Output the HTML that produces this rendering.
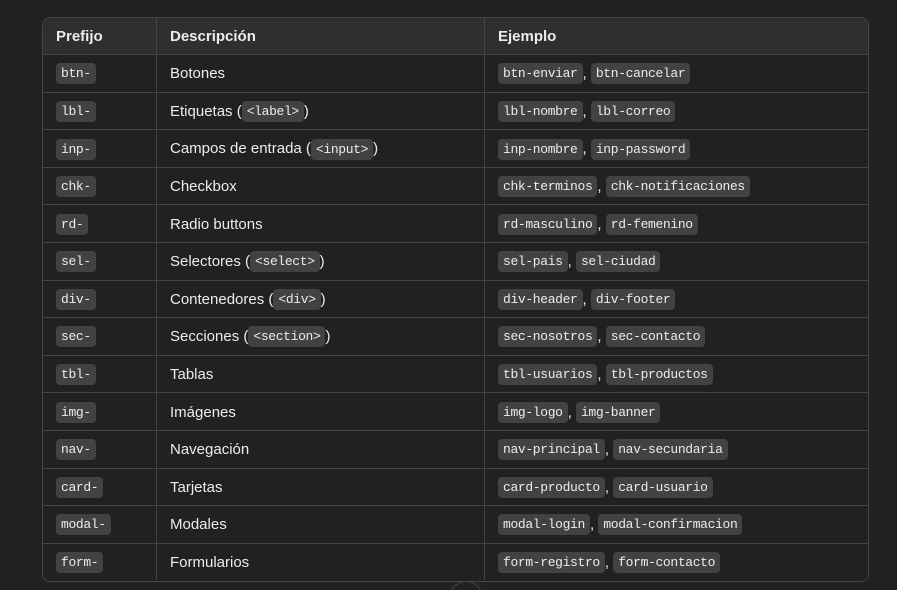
<!DOCTYPE html>
<html><head><style>
html,body{margin:0;padding:0;background:#212121;width:897px;height:590px;overflow:hidden;font-family:"Liberation Sans",sans-serif;color:#ececec}
.wrap{position:relative;width:897px;height:590px;overflow:hidden}
.t{position:absolute;left:42px;top:17px;width:825px;height:563px;border:1px solid #454545;border-radius:8px;overflow:hidden}
table{border-collapse:collapse;width:100%;font-size:15px}
th{background:#2f2f2f;text-align:left;font-weight:bold;height:36px;padding:0 0 0 13px;border-bottom:1px solid #454545;vertical-align:middle}
td{height:34.6px;padding:2px 0 0 13px;border-top:1px solid #454545;vertical-align:middle;line-height:20px}
th+th,td+td{border-left:1px solid #454545}
code{font-family:"Liberation Mono","DejaVu Sans Mono",monospace;font-size:13px;letter-spacing:-0.35px;background:#424242;border-radius:4px;padding:3px 5px;color:#ececec;vertical-align:middle}
.c{position:absolute;left:449px;top:581px;width:32px;height:32px;border:1px solid #454545;border-radius:50%}
</style></head><body><div class="wrap">
<div class="t"><table>
<tr><th style="width:100px">Prefijo</th><th style="width:314px">Descripción</th><th>Ejemplo</th></tr>
<tr><td><code>btn-</code></td><td>Botones</td><td><code>btn-enviar</code>, <code>btn-cancelar</code></td></tr>
<tr><td><code>lbl-</code></td><td>Etiquetas (<code>&lt;label&gt;</code>)</td><td><code>lbl-nombre</code>, <code>lbl-correo</code></td></tr>
<tr><td><code>inp-</code></td><td>Campos de entrada (<code>&lt;input&gt;</code>)</td><td><code>inp-nombre</code>, <code>inp-password</code></td></tr>
<tr><td><code>chk-</code></td><td>Checkbox</td><td><code>chk-terminos</code>, <code>chk-notificaciones</code></td></tr>
<tr><td><code>rd-</code></td><td>Radio buttons</td><td><code>rd-masculino</code>, <code>rd-femenino</code></td></tr>
<tr><td><code>sel-</code></td><td>Selectores (<code>&lt;select&gt;</code>)</td><td><code>sel-pais</code>, <code>sel-ciudad</code></td></tr>
<tr><td><code>div-</code></td><td>Contenedores (<code>&lt;div&gt;</code>)</td><td><code>div-header</code>, <code>div-footer</code></td></tr>
<tr><td><code>sec-</code></td><td>Secciones (<code>&lt;section&gt;</code>)</td><td><code>sec-nosotros</code>, <code>sec-contacto</code></td></tr>
<tr><td><code>tbl-</code></td><td>Tablas</td><td><code>tbl-usuarios</code>, <code>tbl-productos</code></td></tr>
<tr><td><code>img-</code></td><td>Imágenes</td><td><code>img-logo</code>, <code>img-banner</code></td></tr>
<tr><td><code>nav-</code></td><td>Navegación</td><td><code>nav-principal</code>, <code>nav-secundaria</code></td></tr>
<tr><td><code>card-</code></td><td>Tarjetas</td><td><code>card-producto</code>, <code>card-usuario</code></td></tr>
<tr><td><code>modal-</code></td><td>Modales</td><td><code>modal-login</code>, <code>modal-confirmacion</code></td></tr>
<tr><td><code>form-</code></td><td>Formularios</td><td><code>form-registro</code>, <code>form-contacto</code></td></tr>
</table></div>
<div class="c"></div>
</div></body></html>
